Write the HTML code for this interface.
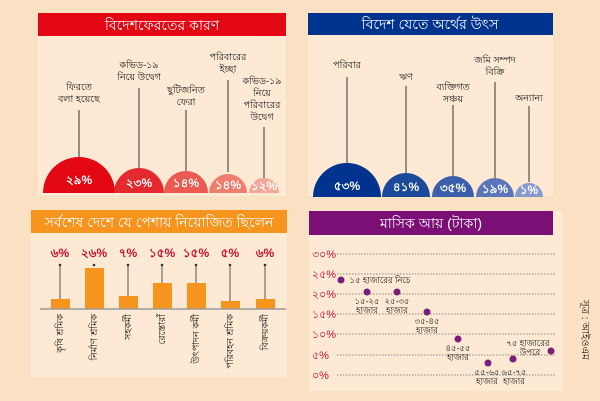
<!DOCTYPE html><html><head><meta charset="utf-8"><style>
body{margin:0;width:600px;height:401px;background:#fbe1c3;overflow:hidden;font-family:"Liberation Sans",sans-serif}
svg{position:absolute;left:0;top:0}
</style></head><body>
<svg width="600" height="401" viewBox="0 0 600 401" font-family="Liberation Sans, sans-serif">
<rect x="38" y="13" width="248" height="183" fill="#fde9d4"/>
<rect x="308" y="13" width="245" height="183" fill="#fde9d4"/>
<rect x="31" y="210" width="256" height="167" fill="#fde9d4"/>
<rect x="309" y="211" width="254" height="180" fill="#fde9d4"/>
<!-- panel1 -->
<rect x="38" y="13" width="248" height="23" fill="#e30613"/>
<text x="162" y="30" fill="#fff" font-size="14" text-anchor="middle">বিদেশফেরতের কারণ</text>
<g stroke="#333" stroke-width="1">
<line x1="79" y1="110" x2="79" y2="157"/><line x1="139" y1="88" x2="139" y2="168"/><line x1="186" y1="110" x2="186" y2="171"/><line x1="228" y1="80" x2="228" y2="172"/><line x1="264" y1="127" x2="264" y2="178"/></g>
<path d="M43 193 A36 36 0 0 1 115 193Z" fill="#e30613"/>
<path d="M114 193 A25 25 0 0 1 164 193Z" fill="#e42a2f"/>
<path d="M164 193 A22 22 0 0 1 208 193Z" fill="#ea5a50"/>
<path d="M209 193 A19 19 0 0 1 247 193Z" fill="#ee7e6e"/>
<path d="M249 193 A15 15 0 0 1 279 193Z" fill="#f4a898"/>
<g fill="#fff" font-size="12" font-weight="bold" text-anchor="middle"><text x="79" y="184">২৯%</text><text x="139" y="187">২৩%</text><text x="186" y="187">১৪%</text><text x="228" y="189">১৪%</text><text x="264" y="190">১২%</text></g>
<g fill="#111" font-size="9.5" text-anchor="middle"><text x="79" y="90">ফিরতে</text><text x="79" y="102">বলা হয়েছে</text>
<text x="139" y="68">কভিড-১৯</text><text x="139" y="80">নিয়ে উদ্বেগ</text>
<text x="186" y="93">ছুটিজনিত</text><text x="186" y="105">ফেরা</text>
<text x="228" y="60">পরিবারের</text><text x="228" y="72">ইচ্ছা</text>
<text x="262" y="84">কভিড-১৯</text><text x="262" y="96">নিয়ে</text><text x="262" y="108">পরিবারের</text><text x="262" y="120">উদ্বেগ</text></g>
<!-- panel2 -->
<rect x="308" y="13" width="245" height="22" fill="#00338d"/>
<text x="430" y="29" fill="#fff" font-size="14" text-anchor="middle">বিদেশ যেতে অর্থের উৎস</text>
<g stroke="#333"><line x1="347" y1="77" x2="347" y2="165"/><line x1="406" y1="86" x2="406" y2="173"/><line x1="453" y1="105" x2="453" y2="176"/><line x1="495" y1="82" x2="495" y2="178"/><line x1="529" y1="106" x2="529" y2="182"/></g>
<path d="M313 197 A34 34 0 0 1 381 197Z" fill="#00338d"/>
<path d="M382 197 A24 24 0 0 1 430 197Z" fill="#1b4a9b"/>
<path d="M432 197 A21 21 0 0 1 474 197Z" fill="#3b5fa9"/>
<path d="M476 197 A19 19 0 0 1 514 197Z" fill="#5b75b9"/>
<path d="M515 197 A14 14 0 0 1 543 197Z" fill="#8799cd"/>
<g fill="#fff" font-size="12" font-weight="bold" text-anchor="middle"><text x="347" y="190">৫৩%</text><text x="406" y="191">৪১%</text><text x="453" y="192">৩৫%</text><text x="495" y="193">১৯%</text><text x="529" y="194">১%</text></g>
<g fill="#111" font-size="9.5" text-anchor="middle"><text x="347" y="68">পরিবার</text><text x="406" y="80">ঋণ</text>
<text x="453" y="90">ব্যক্তিগত</text><text x="453" y="102">সঞ্চয়</text>
<text x="495" y="63">জমি সম্পদ</text><text x="495" y="75">বিক্রি</text><text x="529" y="101">অন্যান্য</text></g>
<!-- panel3 -->
<rect x="31" y="210" width="256" height="23" fill="#f7941d"/>
<text x="159" y="227" fill="#fff" font-size="14" text-anchor="middle">সর্বশেষ দেশে যে পেশায় নিয়োজিত ছিলেন</text>
<g stroke="#555"><line x1="60" y1="265" x2="60" y2="299"/><line x1="128" y1="265" x2="128" y2="296"/><line x1="162" y1="265" x2="162" y2="283"/><line x1="196" y1="265" x2="196" y2="283"/><line x1="230" y1="265" x2="230" y2="301"/><line x1="265" y1="265" x2="265" y2="299"/></g>
<g fill="#333"><circle cx="60" cy="265" r="1.3"/><circle cx="94" cy="265" r="1.3"/><circle cx="128" cy="265" r="1.3"/><circle cx="162" cy="265" r="1.3"/><circle cx="196" cy="265" r="1.3"/><circle cx="230" cy="265" r="1.3"/><circle cx="265" cy="265" r="1.3"/></g>
<g fill="#f7941d"><rect x="51" y="299" width="19" height="10"/><rect x="85" y="268" width="19" height="41"/><rect x="119" y="296" width="19" height="13"/><rect x="153" y="283" width="19" height="26"/><rect x="187" y="283" width="19" height="26"/><rect x="221" y="301" width="19" height="8"/><rect x="256" y="299" width="19" height="10"/></g>
<line x1="40" y1="309" x2="286" y2="309" stroke="#999" stroke-width="1.5"/>
<g fill="#c8102e" font-size="12" font-weight="bold" text-anchor="middle"><text x="60" y="257">৬%</text><text x="94" y="257">২৬%</text><text x="128" y="257">৭%</text><text x="162" y="257">১৫%</text><text x="196" y="257">১৫%</text><text x="230" y="257">৫%</text><text x="265" y="257">৬%</text></g>
<g fill="#111" font-size="9.5" text-anchor="end">
<text transform="translate(63,314) rotate(-90)">কৃষি শ্রমিক</text><text transform="translate(97,314) rotate(-90)">নির্মাণ শ্রমিক</text><text transform="translate(131,314) rotate(-90)">সহকর্মী</text><text transform="translate(165,314) rotate(-90)">রেস্তোরাঁ</text><text transform="translate(199,314) rotate(-90)">উৎপাদন কর্মী</text><text transform="translate(233,314) rotate(-90)">পরিবহন শ্রমিক</text><text transform="translate(268,314) rotate(-90)">বিক্রয়কর্মী</text></g>
<!-- panel4 -->
<rect x="309" y="211" width="244" height="24" fill="#7b0f75"/>
<text x="431" y="228" fill="#fff" font-size="14" text-anchor="middle">মাসিক আয় (টাকা)</text>
<g stroke="#888" stroke-dasharray="1.5 1.5"><line x1="337" y1="254" x2="556" y2="254"/><line x1="337" y1="274" x2="556" y2="274"/><line x1="337" y1="294" x2="556" y2="294"/><line x1="337" y1="314" x2="556" y2="314"/><line x1="337" y1="334" x2="556" y2="334"/><line x1="337" y1="355" x2="556" y2="355"/><line x1="337" y1="375" x2="556" y2="375"/></g>
<g fill="#c8102e" font-size="11"><text x="312" y="258">৩০%</text><text x="312" y="278">২৫%</text><text x="312" y="298">২০%</text><text x="312" y="318">১৫%</text><text x="312" y="338">১০%</text><text x="312" y="359">৫%</text><text x="312" y="379">০%</text></g>
<g fill="#7a1e78"><circle cx="341" cy="280" r="3.5"/><circle cx="367" cy="292" r="3.5"/><circle cx="397" cy="292" r="3.5"/><circle cx="427" cy="312" r="3.5"/><circle cx="458" cy="339" r="3.5"/><circle cx="488" cy="363" r="3.5"/><circle cx="513" cy="359" r="3.5"/><circle cx="551" cy="351" r="3.5"/></g>
<g fill="#111" font-size="8.5" text-anchor="middle"><text x="380" y="283">১৫ হাজারের নিচে</text>
<text x="367" y="304">১৫-২৫</text><text x="367" y="313">হাজার</text><text x="397" y="304">২৫-৩৫</text><text x="397" y="313">হাজার</text>
<text x="427" y="324">৩৫-৪৫</text><text x="427" y="333">হাজার</text><text x="458" y="351">৪৫-৫৫</text><text x="458" y="360">হাজার</text>
<text x="487" y="375">৫৫-৬৫</text><text x="487" y="384">হাজার</text><text x="514" y="375">৬৫-৭৫</text><text x="514" y="384">হাজার</text>
<text x="528" y="346">৭৫ হাজারের</text><text x="530" y="355">উপরে</text></g>
<text transform="translate(582,300) rotate(90)" fill="#111" font-size="10">সূত্র : আইওএম</text>
</svg></body></html>
